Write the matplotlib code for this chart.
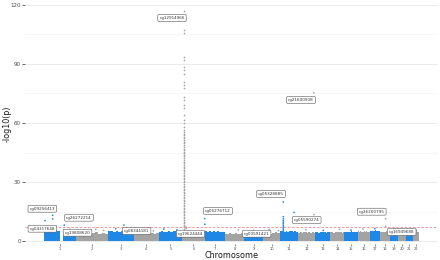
import numpy as np
import matplotlib
matplotlib.use("Agg")
import matplotlib.pyplot as plt

# ---------------- data ----------------
chromosomes = [str(i) for i in range(1, 23)]
chrom_len_mb = [249.3, 243.2, 198.0, 191.2, 180.9, 171.1, 159.1, 146.4, 141.2, 135.5, 135.0,
                133.9, 115.2, 107.3, 102.5, 90.4, 81.2, 78.1, 59.1, 63.0, 48.1, 51.3]

# upper envelope of the dense -log10(p) band, 10 bins per chromosome
band_top = [
    [5.0, 5.5, 5.2, 5.6, 5.1, 0.0, 4.8, 5.3, 5.0, 4.7],
    [4.2, 3.8, 4.4, 3.9, 3.6, 4.1, 4.5, 3.8, 4.0, 3.7],
    [4.9, 5.2, 4.6, 5.1, 4.7, 5.3, 4.8, 4.5, 5.0, 4.7],
    [3.9, 4.2, 3.7, 4.0, 4.4, 3.8, 3.6, 4.1, 3.8, 4.0],
    [4.7, 5.1, 4.8, 4.5, 5.0, 4.7, 5.2, 4.9, 4.6, 4.8],
    [4.4, 4.7, 4.2, 4.5, 4.1, 4.4, 4.6, 4.3, 4.7, 5.0],
    [5.1, 4.8, 5.0, 4.6, 4.9, 4.7, 5.1, 4.8, 4.5, 4.7],
    [3.8, 3.5, 4.0, 3.7, 3.4, 3.9, 3.6, 3.8, 4.1, 3.7],
    [4.6, 4.9, 4.4, 4.5, 4.3, 4.7, 4.5, 4.8, 4.4, 4.6],
    [4.1, 4.4, 3.9, 4.2, 3.8, 4.3, 4.0, 4.4, 4.1, 3.9],
    [4.9, 5.3, 4.7, 5.1, 4.8, 5.2, 5.0, 4.6, 4.9, 4.7],
    [4.3, 4.6, 4.1, 4.4, 4.7, 4.2, 4.5, 4.3, 4.6, 4.2],
    [4.5, 4.7, 4.3, 4.6, 4.4, 4.8, 4.5, 4.3, 4.6, 4.4],
    [4.4, 4.7, 4.3, 4.6, 4.8, 4.4, 4.5, 4.7, 4.3, 4.5],
    [4.6, 4.8, 4.5, 4.7, 4.4, 4.9, 4.6, 4.5, 4.7, 4.6],
    [4.9, 4.6, 5.0, 4.7, 4.8, 5.1, 4.7, 4.9, 4.6, 4.8],
    [5.1, 5.3, 4.9, 5.2, 5.0, 5.4, 5.1, 4.9, 5.2, 5.0],
    [4.6, 4.8, 4.5, 4.7, 4.4, 4.6, 4.9, 4.5, 4.7, 4.6],
    [5.2, 5.4, 5.0, 5.3, 5.1, 5.5, 5.2, 5.0, 5.3, 5.1],
    [4.2, 4.4, 4.0, 4.3, 4.1, 4.5, 4.2, 4.0, 4.3, 4.1],
    [4.1, 4.3, 3.9, 4.2, 4.0, 4.4, 4.1, 3.9, 4.2, 4.0],
    [4.6, 4.8, 4.4, 4.7, 4.5, 4.9, 4.6, 4.4, 4.7, 4.5],
]

# chromosome 6 peak (position in Mb on chr6) and its -log10(p) values
peak_chrom = 6
peak_pos_mb = 15.0
peak_values = [117.1, 107.3, 105.7, 93.5, 92.0, 88.5, 87.0, 85.0, 80.9, 79.3, 77.8,
               73.3, 71.7, 69.1, 67.6, 64.0, 61.5, 60.0, 58.0, 56.2, 55.4, 54.6, 53.9,
               53.0, 52.2, 51.4, 50.5, 49.7, 48.8, 47.8, 47.0, 46.3, 45.5, 44.7, 43.8,
               43.0, 42.1, 41.2, 40.4, 39.6, 38.7, 37.6, 36.9, 36.1, 35.4, 34.6, 33.8,
               33.0, 32.2, 31.3, 30.5, 29.8, 28.9, 28.1, 27.4, 26.6, 25.7, 24.9, 24.2,
               23.3, 22.6, 21.8, 20.9, 20.2, 19.4, 18.5, 17.8, 17.0, 16.2, 15.5, 14.7,
               13.8, 13.1, 12.3, 11.6, 10.8, 9.9, 9.2, 8.4, 7.7, 6.9, 6.1, 5.4, 4.7]

# other individual points above the band: chromosome, position (Mb), -log10(p)
pt_chrom = [1, 1, 1, 1, 1, 1, 2, 2, 2, 3, 3, 3, 4, 4, 5, 5, 6, 6, 7, 7, 8, 9, 10, 10,
            11, 11, 11, 11, 11, 11, 11, 11, 11, 11, 11, 11, 12, 12, 12, 13, 14, 15, 16,
            17, 18, 18, 19, 20, 22]
pt_pos = [9, 68, 68.5, 40, 157, 200, 60, 150, 210, 123, 60, 170, 80, 150, 40, 140, 30, 33,
          1.5, 2.0, 100, 70, 50, 120,
          22, 104, 22.2, 22.4, 22.1, 22.3, 22.0, 22.5, 22.2, 22.1, 22.4, 22.3,
          121, 123, 60, 60, 70, 50, 40, 40, 42, 42.5, 30, 40, 30]
pt_val = [10.4, 13.1, 11.2, 6.2, 8.1, 5.9, 5.6, 6.0, 5.4, 8.1, 6.3, 5.8, 5.5, 5.2, 6.1, 5.7,
          6.5, 7.0, 11.4, 8.5, 5.6, 5.4, 5.8, 5.3,
          19.8, 14.6, 12.4, 11.3, 10.4, 9.6, 8.8, 8.0, 7.3, 6.6, 5.9, 5.2,
          75.4, 13.4, 5.8, 5.4, 5.9, 5.6, 6.1, 6.3, 11.3, 7.6, 5.9, 5.2, 5.5]

threshold = 7.3

label_text = ["cg12914966", "cg21600908", "cg09256413", "cg04317648", "cg26272214",
              "cg19808620", "cg08344181", "cg19624444", "cg06276712", "cg00591421",
              "cg05328885", "cg05590274", "cg26200795", "cg16949688"]

# ---------------- layout / style ----------------
W, H = 440, 260
blue, grey = "#1f87e6", "#a3a3a3"

# label box centres in pixel coordinates of the reference (layout, not data)
label_px = [(172, 18), (301, 100), (42.3, 208.7), (42.3, 228.7), (79, 217.7),
            (77.5, 232.7), (136.7, 231), (190.5, 233.7), (218, 211), (256.7, 233.7),
            (271, 194), (306.7, 220), (371.7, 211.7), (401.7, 232)]

fig = plt.figure(figsize=(W / 100, H / 100), dpi=100)
AX_L, AX_T, AX_W, AX_H = 25, 0, 413, 244
ax = fig.add_axes([AX_L / W, (H - AX_T - AX_H) / H, AX_W / W, AX_H / H])

offsets = np.concatenate([[0], np.cumsum(chrom_len_mb)[:-1]])
centers = offsets + np.array(chrom_len_mb) / 2
total = float(np.sum(chrom_len_mb))

# dense band as bins
for i, (L, tops) in enumerate(zip(chrom_len_mb, band_top)):
    n = len(tops)
    w = L / n
    xs = offsets[i] + w * (np.arange(n) + 0.5)
    col = blue if i % 2 == 0 else grey
    ax.bar(xs, tops, width=w * 1.001, bottom=0, color=col, linewidth=0, zorder=2)

# individual points
px = [offsets[c - 1] + p for c, p in zip(pt_chrom, pt_pos)]
pc = [blue if (c % 2 == 1) else grey for c in pt_chrom]
ax.scatter(px, pt_val, s=1.5, c=pc, linewidths=0, zorder=3)

# chr6 peak
pkx = [offsets[peak_chrom - 1] + peak_pos_mb] * len(peak_values)
ax.scatter(pkx, peak_values, s=1.5, c=grey if peak_chrom % 2 == 0 else blue,
           linewidths=0, zorder=3)

ax.axhline(threshold, color="#ef8a8a", lw=0.6, dashes=(3, 2), zorder=4)

xmin, xmax = -0.05 * total, total * 1.05
ymin, ymax = -1.5, 122.5
ax.set_xlim(xmin, xmax)
ax.set_ylim(ymin, ymax)

# labels
def px_to_data(x, y):
    dx = xmin + (x - AX_L) / AX_W * (xmax - xmin)
    dy = ymin + (AX_T + AX_H - y) / AX_H * (ymax - ymin)
    return dx, dy

for t, (lx, ly) in zip(label_text, label_px):
    dx, dy = px_to_data(lx, ly)
    ax.text(dx, dy, t, fontsize=3.0, color="#333333", ha="center", va="center", zorder=6,
            bbox=dict(boxstyle="round,pad=0.35,rounding_size=0.25", fc="white",
                      ec="#555555", lw=0.4))

# axes styling
ax.set_yticks([0, 30, 60, 90, 120])
ax.set_yticks([15, 45, 75, 105], minor=True)
ax.set_xticks(centers)
ax.set_xticklabels(chromosomes)
ax.grid(axis="y", which="major", color="#e3e3e3", lw=0.5)
ax.grid(axis="y", which="minor", color="#efefef", lw=0.4)
ax.grid(axis="x", visible=False)
ax.set_axisbelow(True)
for s in ax.spines.values():
    s.set_visible(False)
ax.tick_params(axis="y", which="major", length=2, width=0.5, color="#333333",
               labelsize=4.0, labelcolor="#4d4d4d", pad=1)
ax.tick_params(axis="y", which="minor", length=0)
ax.tick_params(axis="x", length=1.2, width=0.4, color="#333333", labelsize=2.6,
               labelcolor="#4d4d4d", pad=0.6)

fig.text((AX_L + AX_W / 2) / W, 1 - 258.5 / H, "Chromosome", fontsize=5.8,
         ha="center", va="baseline", color="#1a1a1a")
fig.text(7 / W, 1 - 124 / H, "-log10(p)", fontsize=5.8, rotation=90,
         ha="center", va="center", color="#1a1a1a")

fig.savefig("out.png", dpi=100)
